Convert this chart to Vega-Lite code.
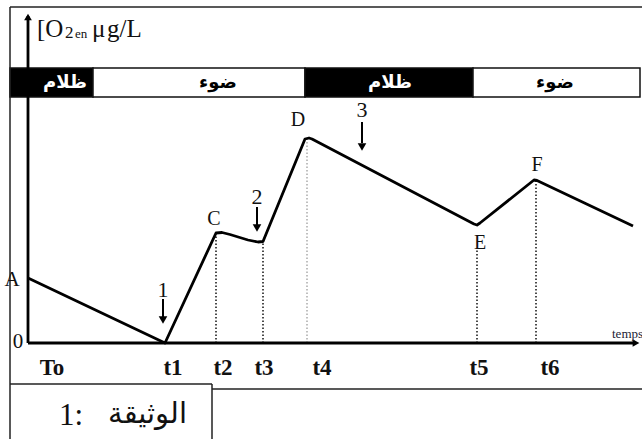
{
  "$schema": "https://vega.github.io/schema/vega-lite/v6.json",
  "width": 642,
  "height": 439,
  "autosize": "none",
  "padding": 0,
  "background": "white",
  "view": {"stroke": null},
  "datasets": {
    "frame": [
      {"x": -1.8, "y": 33.6, "x2": 61.4, "y2": 33.6},
      {"x": -1.8, "y": 33.6, "x2": -1.8, "y2": -9.6},
      {"x": 18.4, "y": -4.6, "x2": 61.4, "y2": -4.6},
      {"x": -1.8, "y": -4.1, "x2": 18.4, "y2": -4.1},
      {"x": 18.4, "y": -4.1, "x2": 18.4, "y2": -9.6}
    ],
    "band": [
      {"x": -1.8, "x2": 6.5, "y": 27.5, "y2": 24.6, "phase": "dark"},
      {"x": 6.5, "x2": 27.7, "y": 27.5, "y2": 24.6, "phase": "light"},
      {"x": 27.7, "x2": 44.5, "y": 27.5, "y2": 24.6, "phase": "dark"},
      {"x": 44.5, "x2": 61.2, "y": 27.5, "y2": 24.6, "phase": "light"}
    ],
    "bandLabels": [
      {"x": 3.7, "y": 26.05, "label": "ظلام", "phase": "dark"},
      {"x": 19.0, "y": 26.05, "label": "ضوء", "phase": "light"},
      {"x": 36.2, "y": 26.05, "label": "ظلام", "phase": "dark"},
      {"x": 52.7, "y": 26.05, "label": "ضوء", "phase": "light"}
    ],
    "axes": [
      {"x": 0, "y": 0, "x2": 0, "y2": 32.7},
      {"x": 0, "y": 0, "x2": 60.6, "y2": 0}
    ],
    "curve": [
      {"time": 0, "o2": 6.5, "order": 1},
      {"time": 13.7, "o2": 0, "order": 2},
      {"time": 18.8, "o2": 11.0, "order": 3},
      {"time": 19.4, "o2": 11.05, "order": 4},
      {"time": 20.2, "o2": 10.85, "order": 5},
      {"time": 22.0, "o2": 10.3, "order": 6},
      {"time": 23.0, "o2": 10.1, "order": 7},
      {"time": 23.5, "o2": 10.15, "order": 8},
      {"time": 27.7, "o2": 20.4, "order": 9},
      {"time": 28.1, "o2": 20.5, "order": 10},
      {"time": 28.4, "o2": 20.4, "order": 11},
      {"time": 44.6, "o2": 11.9, "order": 12},
      {"time": 44.9, "o2": 11.8, "order": 13},
      {"time": 45.2, "o2": 12.0, "order": 14},
      {"time": 50.6, "o2": 16.3, "order": 15},
      {"time": 50.9, "o2": 16.25, "order": 16},
      {"time": 60.5, "o2": 11.7, "order": 17}
    ],
    "guides": [
      {"time": 18.8, "base": 0, "top": 11.0, "tone": "dark"},
      {"time": 23.5, "base": 0, "top": 10.1, "tone": "dark"},
      {"time": 27.9, "base": 0, "top": 20.4, "tone": "gray"},
      {"time": 44.9, "base": 0, "top": 9.3, "tone": "dark"},
      {"time": 50.8, "base": 0, "top": 16.3, "tone": "dark"}
    ],
    "arrows": [
      {"time": 13.5, "top": 4.4, "bottom": 2.5, "head": 2.3, "labelY": 5.3, "num": "1"},
      {"time": 22.9, "top": 13.6, "bottom": 11.8, "head": 11.5, "labelY": 14.6, "num": "2"},
      {"time": 33.4, "top": 22.1, "bottom": 20.0, "head": 19.6, "labelY": 23.3, "num": "3"}
    ],
    "pointLabels": [
      {"time": 18.6, "o2": 12.4, "label": "C"},
      {"time": 27.0, "o2": 22.3, "label": "D"},
      {"time": 45.2, "o2": 10.0, "label": "E"},
      {"time": 50.9, "o2": 17.8, "label": "F"}
    ],
    "ticks": [
      {"time": 2.4, "o2": -2.5, "label": "To"},
      {"time": 14.5, "o2": -2.5, "label": "t1"},
      {"time": 19.5, "o2": -2.5, "label": "t2"},
      {"time": 23.6, "o2": -2.5, "label": "t3"},
      {"time": 29.4, "o2": -2.5, "label": "t4"},
      {"time": 45.1, "o2": -2.5, "label": "t5"},
      {"time": 52.2, "o2": -2.5, "label": "t6"}
    ],
    "smallLabels": [
      {"x": -1.0, "y": 0.1, "label": "0"},
      {"x": -1.6, "y": 6.3, "label": "A"}
    ]
  },
  "layer": [
    {
      "data": {"name": "band"},
      "mark": {"type": "rect", "stroke": "#111", "strokeWidth": 1.5},
      "encoding": {
        "x": {"field": "x", "type": "quantitative", "scale": {"domain": [-2.8, 61.4], "nice": false, "zero": false}, "axis": null},
        "x2": {"field": "x2"},
        "y": {"field": "y", "type": "quantitative", "scale": {"domain": [-9.6, 34.3], "nice": false, "zero": false}, "axis": null},
        "y2": {"field": "y2"},
        "fill": {"field": "phase", "type": "nominal", "scale": {"domain": ["dark", "light"], "range": ["black", "white"]}, "legend": null}
      }
    },
    {
      "data": {"name": "bandLabels"},
      "mark": {"type": "text", "font": "DejaVu Sans", "fontWeight": "bold", "fontSize": 18, "align": "center", "baseline": "middle"},
      "encoding": {
        "x": {"field": "x", "type": "quantitative"},
        "y": {"field": "y", "type": "quantitative"},
        "text": {"field": "label", "type": "nominal"},
        "color": {"condition": {"test": "datum.phase === 'dark'", "value": "white"}, "value": "black"}
      }
    },
    {
      "data": {"name": "frame"},
      "mark": {"type": "rule", "color": "#222", "strokeWidth": 1.5},
      "encoding": {
        "x": {"field": "x", "type": "quantitative"},
        "y": {"field": "y", "type": "quantitative"},
        "x2": {"field": "x2"},
        "y2": {"field": "y2"}
      }
    },
    {
      "data": {"name": "guides"},
      "mark": {"type": "rule", "strokeWidth": 1.5, "strokeDash": [1.5, 2]},
      "encoding": {
        "x": {"field": "time", "type": "quantitative"},
        "y": {"field": "base", "type": "quantitative"},
        "y2": {"field": "top"},
        "color": {"condition": {"test": "datum.tone === 'gray'", "value": "#aaa"}, "value": "#111"}
      }
    },
    {
      "data": {"name": "axes"},
      "mark": {"type": "rule", "color": "black", "strokeWidth": 2.8},
      "encoding": {
        "x": {"field": "x", "type": "quantitative"},
        "y": {"field": "y", "type": "quantitative"},
        "x2": {"field": "x2"},
        "y2": {"field": "y2"}
      }
    },
    {
      "data": {"values": [{"x": 0, "y": 32.6}]},
      "mark": {"type": "point", "shape": "triangle-up", "filled": true, "color": "black", "opacity": 1, "size": 60},
      "encoding": {
        "x": {"field": "x", "type": "quantitative"},
        "y": {"field": "y", "type": "quantitative"}
      }
    },
    {
      "data": {"values": [{"x": 60.8, "y": 0}]},
      "mark": {"type": "point", "shape": "triangle-right", "filled": true, "color": "black", "opacity": 1, "size": 60},
      "encoding": {
        "x": {"field": "x", "type": "quantitative"},
        "y": {"field": "y", "type": "quantitative"}
      }
    },
    {
      "data": {"name": "curve"},
      "mark": {"type": "line", "color": "black", "strokeWidth": 2.8, "strokeJoin": "round"},
      "encoding": {
        "x": {"field": "time", "type": "quantitative"},
        "y": {"field": "o2", "type": "quantitative"},
        "order": {"field": "order", "type": "quantitative"}
      }
    },
    {
      "data": {"name": "arrows"},
      "mark": {"type": "rule", "color": "black", "strokeWidth": 2},
      "encoding": {
        "x": {"field": "time", "type": "quantitative"},
        "y": {"field": "top", "type": "quantitative"},
        "y2": {"field": "bottom"}
      }
    },
    {
      "data": {"name": "arrows"},
      "mark": {"type": "point", "shape": "triangle-down", "filled": true, "color": "black", "opacity": 1, "size": 75},
      "encoding": {
        "x": {"field": "time", "type": "quantitative"},
        "y": {"field": "head", "type": "quantitative"}
      }
    },
    {
      "data": {"name": "arrows"},
      "mark": {"type": "text", "font": "Liberation Serif", "fontSize": 22, "align": "center", "baseline": "middle", "color": "#111"},
      "encoding": {
        "x": {"field": "time", "type": "quantitative"},
        "y": {"field": "labelY", "type": "quantitative"},
        "text": {"field": "num", "type": "nominal"}
      }
    },
    {
      "data": {"name": "pointLabels"},
      "mark": {"type": "text", "font": "Liberation Serif", "fontSize": 20, "align": "center", "baseline": "middle", "color": "#111"},
      "encoding": {
        "x": {"field": "time", "type": "quantitative"},
        "y": {"field": "o2", "type": "quantitative"},
        "text": {"field": "label", "type": "nominal"}
      }
    },
    {
      "data": {"name": "ticks"},
      "mark": {"type": "text", "font": "Liberation Serif", "fontWeight": "bold", "fontSize": 23, "align": "center", "baseline": "middle", "color": "#111"},
      "encoding": {
        "x": {"field": "time", "type": "quantitative"},
        "y": {"field": "o2", "type": "quantitative"},
        "text": {"field": "label", "type": "nominal"}
      }
    },
    {
      "data": {"name": "smallLabels"},
      "mark": {"type": "text", "font": "Liberation Serif", "fontSize": 21, "align": "center", "baseline": "middle", "color": "#111"},
      "encoding": {
        "x": {"field": "x", "type": "quantitative"},
        "y": {"field": "y", "type": "quantitative"},
        "text": {"field": "label", "type": "nominal"}
      }
    },
    {
      "data": {"values": [{"x": 58.4, "y": 0.5, "label": "temps"}]},
      "mark": {"type": "text", "font": "Liberation Serif", "fontSize": 13, "align": "left", "baseline": "alphabetic", "color": "#223"},
      "encoding": {
        "x": {"field": "x", "type": "quantitative"},
        "y": {"field": "y", "type": "quantitative"},
        "text": {"field": "label", "type": "nominal"}
      }
    },
    {
      "data": {"values": [
        {"x": 0.9, "y": 30.6, "label": "[O"},
        {"x": 6.4, "y": 30.6, "label": "μ"},
        {"x": 7.9, "y": 30.6, "label": "g/L"}
      ]},
      "mark": {"type": "text", "font": "Liberation Serif", "fontSize": 25, "align": "left", "baseline": "alphabetic", "color": "#111"},
      "encoding": {
        "x": {"field": "x", "type": "quantitative"},
        "y": {"field": "y", "type": "quantitative"},
        "text": {"field": "label", "type": "nominal"}
      }
    },
    {
      "data": {"values": [{"x": 3.7, "y": 30.5, "label": "2"}]},
      "mark": {"type": "text", "font": "Liberation Serif", "fontSize": 17, "align": "left", "baseline": "alphabetic", "color": "#111"},
      "encoding": {
        "x": {"field": "x", "type": "quantitative"},
        "y": {"field": "y", "type": "quantitative"},
        "text": {"field": "label", "type": "nominal"}
      }
    },
    {
      "data": {"values": [{"x": 4.7, "y": 30.5, "label": "en"}]},
      "mark": {"type": "text", "font": "Liberation Serif", "fontSize": 13, "align": "left", "baseline": "alphabetic", "color": "#111"},
      "encoding": {
        "x": {"field": "x", "type": "quantitative"},
        "y": {"field": "y", "type": "quantitative"},
        "text": {"field": "label", "type": "nominal"}
      }
    },
    {
      "data": {"values": [{"x": 3.1, "y": -8.2, "label": "1:"}]},
      "mark": {"type": "text", "font": "Liberation Serif", "fontSize": 31, "align": "left", "baseline": "alphabetic", "color": "#111"},
      "encoding": {
        "x": {"field": "x", "type": "quantitative"},
        "y": {"field": "y", "type": "quantitative"},
        "text": {"field": "label", "type": "nominal"}
      }
    },
    {
      "data": {"values": [{"x": 15.9, "y": -8.0, "label": "الوثيقة"}]},
      "mark": {"type": "text", "font": "DejaVu Sans", "fontSize": 29, "align": "right", "baseline": "alphabetic", "color": "#111"},
      "encoding": {
        "x": {"field": "x", "type": "quantitative"},
        "y": {"field": "y", "type": "quantitative"},
        "text": {"field": "label", "type": "nominal"}
      }
    }
  ]
}
